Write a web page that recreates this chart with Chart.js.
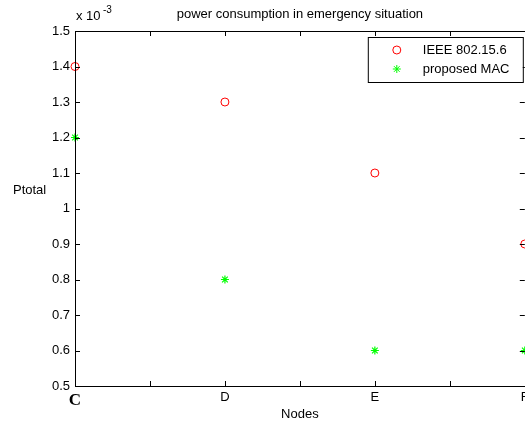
<!DOCTYPE html>
<html>
<head>
<meta charset="utf-8">
<title>power consumption in emergency situation</title>
<script src="https://cdn.jsdelivr.net/npm/chart.js@4/dist/chart.umd.min.js"></script>
<style>
  html, body { margin: 0; padding: 0; background: #fff; overflow: hidden; }
  #wrap { width: 525px; height: 424px; overflow: hidden; }
</style>
</head>
<body>
<div id="wrap"><canvas id="myChart" width="530" height="424"></canvas></div>
<script>
// nodes on the x axis, power in units of 1e-3
var nodes = ['C', 'D', 'E', 'F'];
var ieeePower = [1.4, 1.3, 1.1, 0.9];
var proposedPower = [1.2, 0.8, 0.6, 0.6];

var font = 'Liberation Sans, Arial, sans-serif';

function points(values) {
    return values.map(function (v, i) { return { x: i + 1, y: v }; });
}

// box around the plot with matlab style ticks pointing inwards, plus the labels
var frame = {
    id: 'frame',
    afterDraw: function (chart) {
        var c = chart.ctx, a = chart.chartArea;
        var xs = chart.scales.x, ys = chart.scales.y;
        c.save();
        c.strokeStyle = '#000';
        c.lineWidth = 1;
        c.beginPath();
        xs.ticks.forEach(function (t) {
            var px = Math.round(xs.getPixelForValue(t.value)) + 0.5;
            c.moveTo(px, a.bottom); c.lineTo(px, a.bottom - 5);
            c.moveTo(px, a.top); c.lineTo(px, a.top + 5);
        });
        ys.ticks.forEach(function (t) {
            var py = Math.round(ys.getPixelForValue(t.value)) + 0.5;
            c.moveTo(a.left, py); c.lineTo(a.left + 5, py);
            c.moveTo(a.right, py); c.lineTo(a.right - 5, py);
        });
        c.stroke();
        c.strokeRect(Math.round(a.left) + 0.5, Math.round(a.top) + 0.5,
            Math.round(a.right - a.left), Math.round(a.bottom - a.top));

        c.fillStyle = '#000';
        c.textBaseline = 'middle';
        c.font = '13px ' + font;
        c.textAlign = 'center';
        c.fillText('power consumption in emergency situation', (a.left + a.right) / 2, 14);
        c.textAlign = 'left';
        c.fillText('x 10', a.left + 1, 16);
        c.font = '10px ' + font;
        c.fillText('-3', a.left + 28, 10);
        c.font = '13px ' + font;
        c.fillText('Ptotal', 13, 190);

        // legend inside the upper right corner
        var lx = a.right - 157, ly = a.top + 6;
        c.fillStyle = '#fff';
        c.fillRect(lx, ly, 155, 45);
        c.strokeRect(lx + 0.5, ly + 0.5, 155, 45);
        chart.data.datasets.forEach(function (ds, i) {
            var my = ly + 13 + i * 19;
            c.strokeStyle = ds.borderColor;
            c.fillStyle = 'rgba(0,0,0,0)';
            c.lineWidth = 1;
            Chart.helpers.drawPoint(c, {
                pointStyle: ds.pointStyle,
                radius: ds.pointRadius,
                borderWidth: ds.pointBorderWidth
            }, lx + 29, my);
            c.fillStyle = '#000';
            c.font = '13px ' + font;
            c.fillText(ds.label, lx + 55, my);
        });
        c.restore();
    }
};

var ctx = document.getElementById('myChart').getContext('2d');
var chart = new Chart(ctx, {
    type: 'scatter',
    data: {
        datasets: [{
            label: 'IEEE 802.15.6',
            data: points(ieeePower),
            pointStyle: 'circle',
            pointRadius: 4,
            pointBorderWidth: 1,
            borderColor: '#ff0000',
            backgroundColor: 'rgba(0,0,0,0)',
            clip: false
        }, {
            label: 'proposed MAC',
            data: points(proposedPower),
            pointStyle: 'star',
            pointRadius: 4,
            pointBorderWidth: 1.2,
            borderColor: '#00ff00',
            backgroundColor: '#00ff00',
            clip: false
        }]
    },
    options: {
        responsive: false,
        animation: false,
        layout: { padding: { top: 31, right: 4.5, left: 0, bottom: 0 } },
        plugins: {
            legend: { display: false },
            tooltip: { enabled: false }
        },
        scales: {
            x: {
                type: 'linear',
                min: 1,
                max: 4,
                grid: { display: false, drawTicks: false },
                border: { display: false },
                afterFit: function (s) {
                    s.height = 38;
                    s.paddingLeft = 0;
                    s.paddingRight = 0;
                },
                ticks: {
                    stepSize: 0.5,
                    autoSkip: false,
                    maxRotation: 0,
                    padding: 4,
                    color: '#000',
                    font: function (c) {
                        if (c.tick && c.tick.value === 1) {
                            return { family: 'Liberation Serif, Times New Roman, serif', size: 17, weight: 'bold' };
                        }
                        return { family: font, size: 13 };
                    },
                    callback: function (v) {
                        return Number.isInteger(v) ? nodes[v - 1] : '';
                    }
                },
                title: {
                    display: true,
                    text: 'Nodes',
                    color: '#000',
                    font: { family: font, size: 13 },
                    padding: { top: 0, bottom: 2 }
                }
            },
            y: {
                min: 0.5,
                max: 1.5,
                grid: { display: false, drawTicks: false },
                border: { display: false },
                afterFit: function (s) { s.width = 75; },
                ticks: {
                    stepSize: 0.1,
                    padding: 5,
                    color: '#000',
                    font: { family: font, size: 13 },
                    callback: function (v) { return String(+v.toFixed(1)); }
                }
            }
        }
    },
    plugins: [frame]
});
</script>
</body>
</html>
